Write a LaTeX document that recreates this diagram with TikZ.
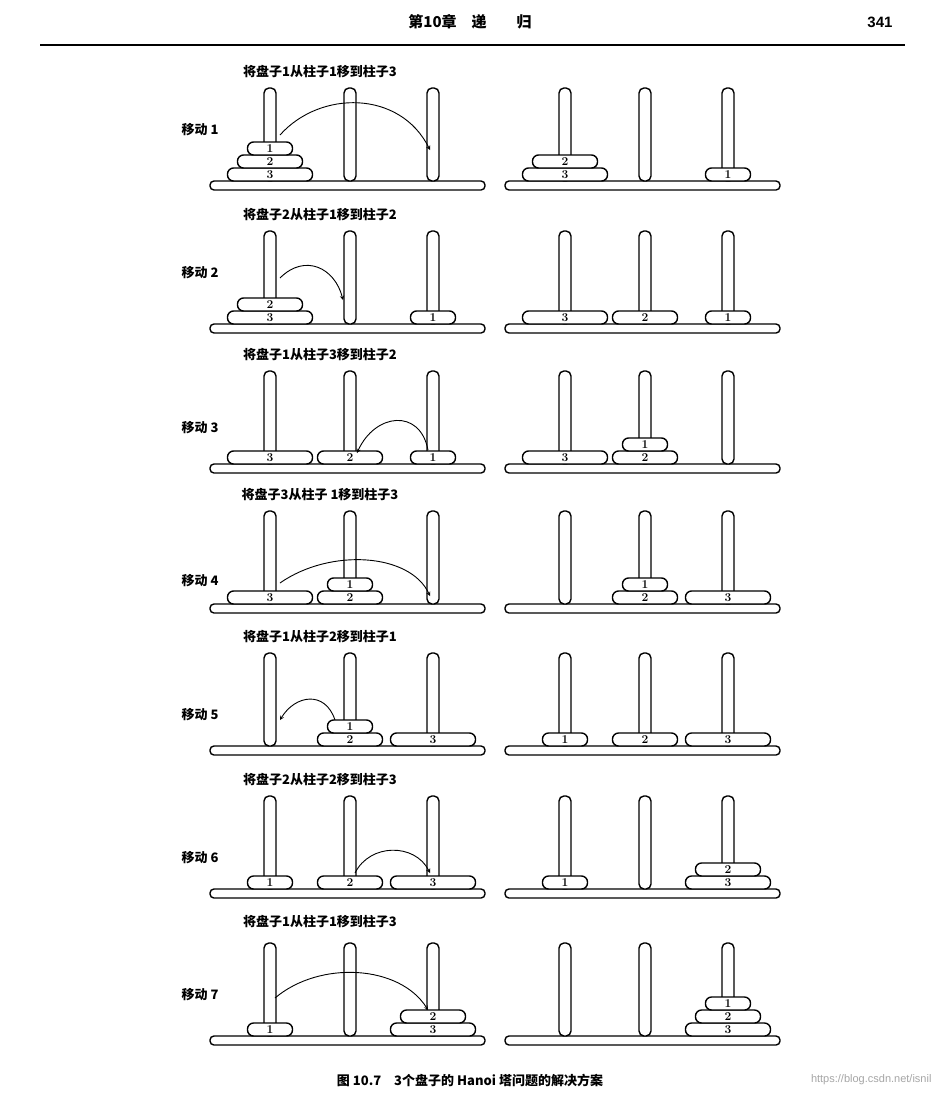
\documentclass[tikz,border=0pt]{standalone}
\usepackage{fontspec}
\newfontfamily\cjk{Noto Sans CJK SC}
\newfontfamily\hsans{Liberation Sans}
\tikzset{
  diskbox/.style={draw,fill=white,line width=1.4pt,rounded corners=6},
  pegbox/.style={draw,fill=white,line width=1.4pt,rounded corners=5},
  basebox/.style={draw,fill=white,line width=1.4pt,rounded corners=4},
  mv/.style={->,>=stealth,line width=0.9pt},
  ttl/.style={font=\cjk\bfseries\fontsize{13}{15}\selectfont},
  lbl/.style={font=\cjk\bfseries\fontsize{13}{15}\selectfont,anchor=east},
  num/.style={font=\bfseries\fontsize{12}{12}\selectfont,inner sep=0pt}
}
\newcommand\board[2]{%
  \draw[basebox] (#1,#2-4) rectangle (#1+275,#2+5);
  \foreach \px in {60,140,223}{\draw[pegbox] (#1+\px-6,#2-4) rectangle (#1+\px+6,#2-97);}
}
\newcommand\stk[4]{% x0 base pegoffset list
  \foreach \d [count=\i] in {#4}{%
    \pgfmathsetmacro\w{25+20*\d}%
    \pgfmathsetmacro\cx{#1+#3}%
    \pgfmathsetmacro\cy{#2-4-13*\i+6.5}%
    \draw[diskbox] (\cx-\w/2,\cy-6.5) rectangle (\cx+\w/2,\cy+6.5);
    \node[num] at (\cx,\cy) {\d};
  }%
}
\begin{document}
\begin{tikzpicture}[x=1pt,y=-1pt]
\useasboundingbox[fill=white] (0,0) rectangle (939,1096);
\node[font=\cjk\bfseries\fontsize{15}{17}\selectfont] (hd) at (470,22) {第10章\quad 递\qquad 归};
\node[font=\hsans\bfseries\fontsize{15}{17}\selectfont] (pg) at (880,22) {341};
\draw[line width=2pt] (40,45) -- (905,45);
% row 1
\def\b{185}
\node[ttl] (t1) at (320,\b-113) {将盘子1从柱子1移到柱子3};
\node[lbl] (m1) at (222,\b-55) {移动 1};
\board{210}{\b}\stk{210}{\b}{60}{3,2,1}
\board{505}{\b}\stk{505}{\b}{60}{3,2}\stk{505}{\b}{223}{1}
\coordinate (a1) at (280,\b-50); \coordinate (e1) at (430,\b-35);
\draw[mv] (a1) .. controls (320,\b-95) and (400,\b-95) .. (e1);
% row 2
\def\b{328}
\node[ttl] (t2) at (320,\b-113) {将盘子2从柱子1移到柱子2};
\node[lbl] (m2) at (222,\b-55) {移动 2};
\board{210}{\b}\stk{210}{\b}{60}{3,2}\stk{210}{\b}{223}{1}
\board{505}{\b}\stk{505}{\b}{60}{3}\stk{505}{\b}{140}{2}\stk{505}{\b}{223}{1}
\coordinate (a2) at (280,\b-50); \coordinate (e2) at (343,\b-28);
\draw[mv] (a2) .. controls (305,\b-75) and (335,\b-60) .. (e2);
% row 3
\def\b{468}
\node[ttl] (t3) at (320,\b-113) {将盘子1从柱子3移到柱子2};
\node[lbl] (m3) at (222,\b-40) {移动 3};
\board{210}{\b}\stk{210}{\b}{60}{3}\stk{210}{\b}{140}{2}\stk{210}{\b}{223}{1}
\board{505}{\b}\stk{505}{\b}{60}{3}\stk{505}{\b}{140}{2,1}
\coordinate (a3) at (428,\b-18); \coordinate (e3) at (357,\b-15);
\draw[mv] (a3) .. controls (420,\b-60) and (375,\b-55) .. (e3);
% row 4
\def\b{608}
\node[ttl] (t4) at (320,\b-113) {将盘子3从柱子 1移到柱子3};
\node[lbl] (m4) at (222,\b-27) {移动 4};
\board{210}{\b}\stk{210}{\b}{60}{3}\stk{210}{\b}{140}{2,1}
\board{505}{\b}\stk{505}{\b}{140}{2,1}\stk{505}{\b}{223}{3}
\coordinate (a4) at (280,\b-25); \coordinate (e4) at (430,\b-12);
\draw[mv] (a4) .. controls (330,\b-60) and (410,\b-55) .. (e4);
% row 5
\def\b{750}
\node[ttl] (t5) at (320,\b-113) {将盘子1从柱子2移到柱子1};
\node[lbl] (m5) at (222,\b-35) {移动 5};
\board{210}{\b}\stk{210}{\b}{140}{2,1}\stk{210}{\b}{223}{3}
\board{505}{\b}\stk{505}{\b}{60}{1}\stk{505}{\b}{140}{2}\stk{505}{\b}{223}{3}
\coordinate (a5) at (335,\b-30); \coordinate (e5) at (280,\b-30);
\draw[mv] (a5) .. controls (325,\b-60) and (295,\b-55) .. (e5);
% row 6
\def\b{893}
\node[ttl] (t6) at (320,\b-113) {将盘子2从柱子2移到柱子3};
\node[lbl] (m6) at (222,\b-35) {移动 6};
\board{210}{\b}\stk{210}{\b}{60}{1}\stk{210}{\b}{140}{2}\stk{210}{\b}{223}{3}
\board{505}{\b}\stk{505}{\b}{60}{1}\stk{505}{\b}{223}{3,2}
\coordinate (a6) at (355,\b-20); \coordinate (e6) at (430,\b-20);
\draw[mv] (a6) .. controls (370,\b-50) and (415,\b-50) .. (e6);
% row 7
\def\b{1040}
\node[ttl] (t7) at (320,\b-118) {将盘子1从柱子1移到柱子3};
\node[lbl] (m7) at (222,\b-45) {移动 7};
\board{210}{\b}\stk{210}{\b}{60}{1}\stk{210}{\b}{223}{3,2}
\board{505}{\b}\stk{505}{\b}{223}{3,2,1}
\coordinate (a7) at (275,\b-42); \coordinate (e7) at (428,\b-30);
\draw[mv] (a7) .. controls (320,\b-80) and (400,\b-75) .. (e7);
% caption
\node[font=\cjk\bfseries\fontsize{13}{15}\selectfont] (cap) at (470,1080) {图 10.7\quad 3个盘子的 Hanoi 塔问题的解决方案};
\node[font=\hsans\fontsize{11}{13}\selectfont,text=gray!70,anchor=east] (wm) at (935,1080) {https://blog.csdn.net/isnil};
\end{tikzpicture}
\end{document}
